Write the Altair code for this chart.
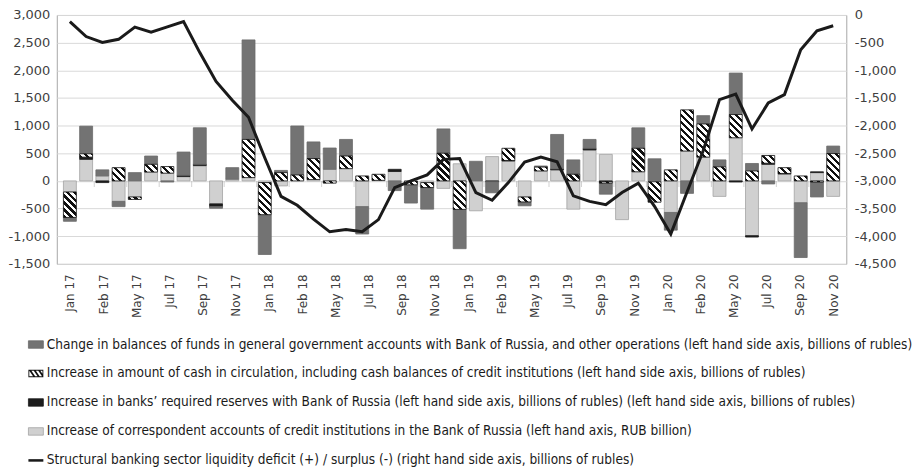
import altair as alt

# ---------------- data (billions of rubles), Jan 2017 .. Dec 2020 ----------------
gov = [-70, 500, 110, -95, 150, 150, -20, 420, 660, -30, 210, 1800,
       -720, 40, 885, 300, 385, 300, -495, 0, -175, -330, -390, 440,
       -710, 355, -200, 0, -70, 20, 620, 260, 160, -200, 0, 370,
       400, -320, -225, 150, 125, 750, 135, -55, 0, -990, -270, 135]
cash = [-460, 60, 0, 240, -45, 140, 120, 0, 0, 0, 0, 690,
        -580, 150, 108, 380, -40, 228, 90, 110, 0, -70, -90, 500,
        -515, 0, 0, 220, -90, 70, 0, 120, 0, -25, 0, 425,
        -370, 200, 745, 600, 255, 420, 180, 140, 105, 90, -20, 495]
reserves = [0, 40, -30, 0, 0, 0, 0, 24, 25, -50, 0, 0,
            0, 0, 0, 0, 0, 0, 0, 0, 40, 0, 0, 0,
            0, 0, -15, 10, 0, 0, 20, 0, 30, -15, 0, 0,
            0, 0, 0, 0, 0, -20, -25, 20, 10, 0, 15, 0]
corr = [-200, 390, 90, -370, -290, 160, 140, 78, 276, -415, 30, 60,
        -30, -90, 0, 25, 210, 222, -465, 10, 170, 0, -30, -135,
        310, -540, 440, 360, -290, 180, 200, -510, 560, 480, -700, 165,
        -15, -570, 540, 430, -280, 780, -990, 300, 125, -395, 150, -280]
deficit = [-120, -390, -495, -440, -220, -310, -215, -120, -680, -1200, -1540, -1850,
           -2580, -3280, -3440, -3690, -3920, -3880, -3920, -3700, -3120, -3000, -2890, -2610,
           -2595, -3210, -3350, -3030, -2660, -2570, -2655, -3270, -3370, -3430, -3210, -3040,
           -3460, -3960, -3200, -2450, -1530, -1430, -2060, -1590, -1440, -630, -285, -195]

tick_labels = ["Jan 17", "Feb 17", "May 17", "Jul 17", "Sep 17", "Nov 17",
               "Jan 18", "Feb 18", "May 18", "Jul 18", "Sep 18", "Nov 18",
               "Jan 19", "Feb 19", "May 19", "Jul 19", "Sep 19", "Nov 19",
               "Jan 20", "Feb 20", "May 20", "Jul 20", "Sep 20", "Nov 20"]

series_names = [
    "Change in balances of funds in general government accounts with Bank of Russia, and other operations (left hand side axis, billions of rubles)",
    "Increase in amount of cash in circulation, including cash balances of credit institutions (left hand side axis, billions of rubles)",
    "Increase in banks\u2019 required reserves with Bank of Russia (left hand side axis, billions of rubles) (left hand side axis, billions of rubles)",
    "Increase of correspondent accounts of credit institutions in the Bank of Russia (left  hand axis, RUB billion)",
    "Structural banking sector liquidity deficit (+) / surplus (-) (right hand side axis, billions of rubles)",
]

# ---------------- styling ----------------
PLOT_W, PLOT_H = 793, 250
BAR_W = 13
Y_LEFT = [-1500, 3000]
Y_RIGHT = [-4500, 0]
HATCH_PERIOD = 7.0
C_GOV, C_RES, C_CORR, C_LINE = "#737373", "#1c1c1c", "#d0d0d0", "#1a1a1a"
S_GOV, S_RES, S_CORR = "#6a6a6a", "#1c1c1c", "#a3a3a3"
AXIS_FONT = "DejaVu Sans"
LEGEND_FONT = "DejaVu Sans Condensed"


def hatch_fill(v):
    """Diagonal black/white stripes as a per-segment linear gradient."""
    h = abs(v) * PLOT_H / (Y_LEFT[1] - Y_LEFT[0])
    w = BAR_W
    if h < 0.5:
        return {"gradient": "linear", "stops": [{"offset": 0, "color": "#111111"},
                                                {"offset": 1, "color": "#111111"}]}
    k = (w + h) / (w * w + h * h)
    n = (w + h) / HATCH_PERIOD
    stops = []
    j = 0
    while j < n:
        a = min(j / n, 1.0)
        b = min((j + 0.45) / n, 1.0)
        c = min((j + 1) / n, 1.0)
        stops += [{"offset": a, "color": "#111111"}, {"offset": b, "color": "#111111"},
                  {"offset": b, "color": "#ffffff"}, {"offset": c, "color": "#ffffff"}]
        j += 1
    return {"gradient": "linear", "x1": 0, "y1": 1, "x2": k * w, "y2": 1 - k * h,
            "stops": stops}


stack_parts = [(series_names[3], corr, 0), (series_names[2], reserves, 1),
               (series_names[1], cash, 2), (series_names[0], gov, 3)]
rows = []
for i in range(len(gov)):
    for name, vals, order in stack_parts:
        rec = {"idx": i, "series": name, "value": vals[i], "order": order}
        if order == 2:
            rec["hatch"] = hatch_fill(vals[i])
        rows.append(rec)
line_rows = [{"idx": i, "deficit": d} for i, d in enumerate(deficit)]
legend_rows = [{"series": s} for s in series_names]
tick_rows = [{"idx": i + 1.5} for i in range(0, len(gov) - 2, 2)]

n_lab = len(tick_labels)
last = len(gov) - 1
label_pos = [k * last / (n_lab - 1) for k in range(n_lab)]
label_js = "[" + ",".join("'" + t + "'" for t in tick_labels) + "]"

x_scale = alt.Scale(domain=[-0.5, len(gov) - 0.5], nice=False, zero=False)
x_axis = alt.Axis(values=label_pos,
                  labelExpr=f"{label_js}[round(datum.value*{n_lab - 1}/{last})]",
                  labelAngle=270, grid=False, ticks=False, domain=False,
                  labelPadding=10, labelFontSize=12, labelOverlap=False,
                  labelFlush=False, title=None)
xenc = alt.X("idx:Q", scale=x_scale, axis=x_axis)

minus_fix = "replace(format(datum.value, ','), '\u2212', '-')"
yleft_scale = alt.Scale(domain=Y_LEFT, nice=False, zero=False)
yleft_axis = alt.Axis(values=list(range(Y_LEFT[0], Y_LEFT[1] + 1, 500)), labelExpr=minus_fix,
                      grid=True, gridColor="#d9d9d9", gridWidth=1, ticks=False, domain=False,
                      labelPadding=7, labelOverlap=False, labelFlush=False, title=None)

fill_scale = alt.Scale(domain=series_names, range=[C_GOV, "#111111", C_RES, C_CORR, C_LINE])
stroke_scale = alt.Scale(domain=series_names,
                         range=[S_GOV, "transparent", S_RES, S_CORR, "transparent"])

rect_path = "M-1,-0.5H1V0.5H-1Z"
hatch_path = ("M-1,-0.5H1V0.5H-1Z M-0.88,-0.36V0.36H0.88V-0.36Z "
              "M-0.88,-0.36H-0.6L-0.1,0.36H-0.38Z "
              "M-0.28,-0.36H0L0.5,0.36H0.22Z "
              "M0.32,-0.36H0.6L0.88,0.04V0.36H0.82Z")
line_path = "M-1,-0.17H1V0.17H-1Z"
shape_scale = alt.Scale(domain=series_names,
                        range=[rect_path, hatch_path, rect_path, rect_path, line_path])

legend_def = alt.Legend(orient="none", legendX=-29, legendY=323,
                        direction="vertical", title=None,
                        symbolSize=225, symbolStrokeWidth=0.8,
                        labelFont=LEGEND_FONT, labelFontSize=13.6,
                        labelColor="#1a1a1a", labelLimit=1000,
                        labelOffset=3, rowPadding=14.1, symbolOpacity=1)

base = alt.Chart(alt.Data(values=rows)).transform_stack(
    stack="value", groupby=["idx"], as_=["v0", "v1"],
    sort=[alt.SortField("order", order="ascending")], offset="zero"
).transform_filter(alt.datum.value != 0)

bars = base.transform_filter(alt.datum.order != 2).mark_bar(
    width=BAR_W, strokeWidth=0.8, aria=False
).encode(
    x=xenc,
    y=alt.Y("v0:Q", scale=yleft_scale, axis=yleft_axis, stack=None),
    y2="v1:Q",
    fill=alt.Fill("series:N", scale=fill_scale, legend=legend_def),
    stroke=alt.Stroke("series:N", scale=stroke_scale, legend=legend_def),
)

hatched = base.transform_filter(alt.datum.order == 2).mark_bar(
    width=BAR_W, stroke="#111111", strokeWidth=0.8, aria=False
).encode(
    x=xenc,
    y=alt.Y("v0:Q", scale=yleft_scale, axis=yleft_axis, stack=None),
    y2="v1:Q",
    fill=alt.Fill("hatch:N", scale=None),
)

zero_ticks = alt.Chart(alt.Data(values=tick_rows)).mark_tick(
    orient="vertical", size=6, thickness=1, yOffset=3, color="#bfbfbf"
).encode(
    x=xenc,
    y=alt.datum(0, scale=yleft_scale, axis=yleft_axis),
)

legend_pts = alt.Chart(alt.Data(values=legend_rows)).transform_filter("false").mark_point(
    filled=True, opacity=1
).encode(
    fill=alt.Fill("series:N", scale=fill_scale, legend=legend_def),
    stroke=alt.Stroke("series:N", scale=stroke_scale, legend=legend_def),
    shape=alt.Shape("series:N", scale=shape_scale, legend=legend_def),
)

left = alt.layer(bars, hatched, zero_ticks, legend_pts)

line = alt.Chart(alt.Data(values=line_rows)).mark_line(
    color=C_LINE, strokeWidth=3
).encode(
    x=xenc,
    y=alt.Y("deficit:Q", scale=alt.Scale(domain=Y_RIGHT, nice=False, zero=False),
            axis=alt.Axis(orient="right", values=list(range(Y_RIGHT[0], Y_RIGHT[1] + 1, 500)),
                          labelExpr=minus_fix, grid=False, ticks=False, domain=False,
                          labelPadding=8, labelOverlap=False, labelFlush=False, title=None)),
)

chart = alt.layer(left, line).resolve_scale(y="independent").properties(
    width=PLOT_W, height=PLOT_H, padding=0
).configure_view(
    stroke="#a6a6a6", strokeWidth=1
).configure_axis(
    labelFont=AXIS_FONT, labelFontSize=13, labelColor="#404040", labelOverlap=False
)

chart.save("out.html", embed_options={"renderer": "svg", "actions": False})
